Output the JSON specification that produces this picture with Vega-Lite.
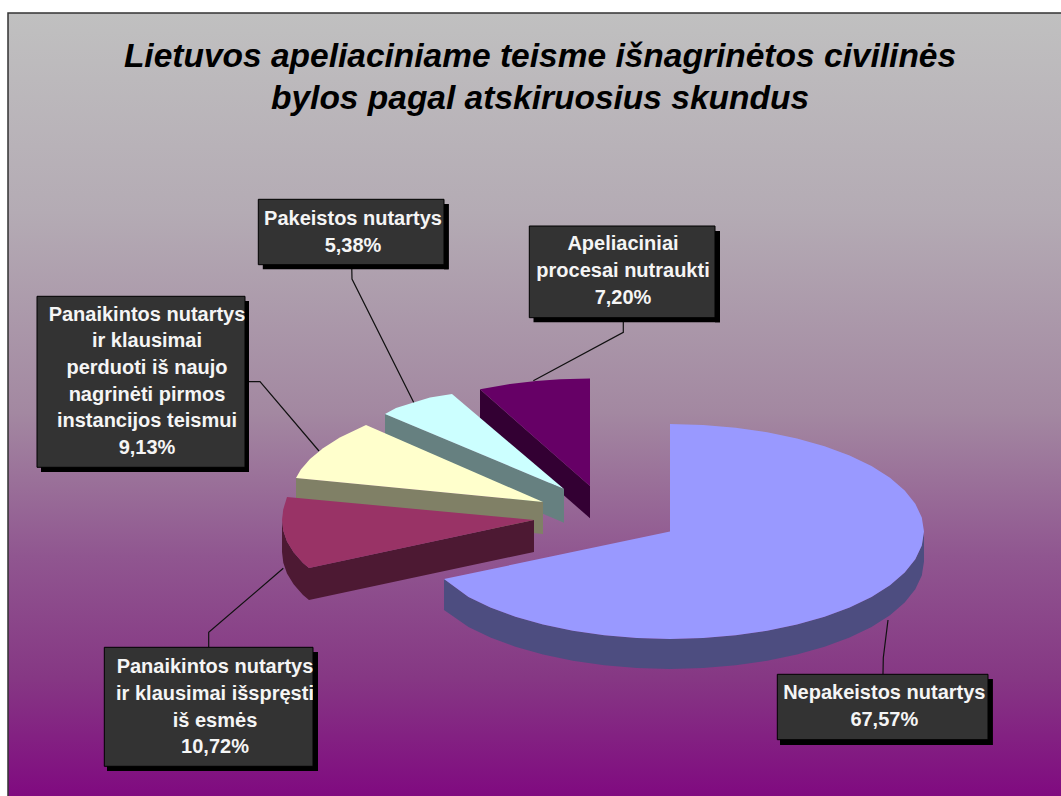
{
"$schema":"https://vega.github.io/schema/vega-lite/v6.json",
"width":1061,"height":796,"padding":0,"autosize":{"type":"none"},"background":"white",
"view":{"stroke":null},
"title":{"text":["Lietuvos apeliaciniame teisme išnagrinėtos civilinės","bylos pagal atskiruosius skundus"],"orient":"top","anchor":"middle","frame":"group","baseline":"alphabetic","dy":142.5,"dx":9.5,"offset":0,"zindex":1,"font":"Liberation Sans","fontSize":33.5,"fontWeight":"bold","fontStyle":"italic","color":"black","lineHeight":41.6},
"datasets":{
"frame":[{"x":8,"x2":1075,"y":13,"y2":812}],
"leaders":[
{"leader":"Nepakeistos nutartys","n":1,"x":883,"y":674},{"leader":"Nepakeistos nutartys","n":2,"x":883.3,"y":657.7},{"leader":"Nepakeistos nutartys","n":3,"x":888,"y":620},
{"leader":"Panaikintos isspresti","n":1,"x":208.7,"y":647},{"leader":"Panaikintos isspresti","n":2,"x":208.7,"y":632.3},{"leader":"Panaikintos isspresti","n":3,"x":283.3,"y":568.3},
{"leader":"Panaikintos perduoti","n":1,"x":245,"y":381.7},{"leader":"Panaikintos perduoti","n":2,"x":260,"y":381.7},{"leader":"Panaikintos perduoti","n":3,"x":319,"y":451},
{"leader":"Pakeistos nutartys","n":1,"x":351.7,"y":264.7},{"leader":"Pakeistos nutartys","n":2,"x":352,"y":279},{"leader":"Pakeistos nutartys","n":3,"x":414,"y":403},
{"leader":"Apeliaciniai procesai","n":1,"x":623.3,"y":317.7},{"leader":"Apeliaciniai procesai","n":2,"x":623.3,"y":332.3},{"leader":"Apeliaciniai procesai","n":3,"x":533.3,"y":380.7}
],
"faces":[
{"part":"Apeliaciniai side","n":1,"x":480,"y":389.3},{"part":"Apeliaciniai side","n":2,"x":590,"y":486},{"part":"Apeliaciniai side","n":3,"x":590,"y":518.3},{"part":"Apeliaciniai side","n":4,"x":480,"y":421.6},
{"part":"Apeliaciniai top","n":1,"x":590,"y":486},{"part":"Apeliaciniai top","n":2,"x":480,"y":389.3},{"part":"Apeliaciniai top","n":3,"x":510,"y":384},{"part":"Apeliaciniai top","n":4,"x":536,"y":381},{"part":"Apeliaciniai top","n":5,"x":560,"y":379.2},{"part":"Apeliaciniai top","n":6,"x":590,"y":378.5},
{"part":"Pakeistos side","n":1,"x":385,"y":414},{"part":"Pakeistos side","n":2,"x":564,"y":489},{"part":"Pakeistos side","n":3,"x":564,"y":522.7},{"part":"Pakeistos side","n":4,"x":385,"y":447},
{"part":"Pakeistos top","n":1,"x":564,"y":489},{"part":"Pakeistos top","n":2,"x":385,"y":414},{"part":"Pakeistos top","n":3,"x":396,"y":408},{"part":"Pakeistos top","n":4,"x":412,"y":403},{"part":"Pakeistos top","n":5,"x":430,"y":397.6},{"part":"Pakeistos top","n":6,"x":452,"y":394},
{"part":"Perduoti side","n":1,"x":296,"y":478},{"part":"Perduoti side","n":2,"x":543,"y":502},{"part":"Perduoti side","n":3,"x":543,"y":534},{"part":"Perduoti side","n":4,"x":296,"y":510},
{"part":"Perduoti top","n":1,"x":543,"y":502},{"part":"Perduoti top","n":2,"x":296,"y":478},{"part":"Perduoti top","n":3,"x":300.7,"y":469.8},{"part":"Perduoti top","n":4,"x":310,"y":459},{"part":"Perduoti top","n":5,"x":323,"y":448.3},{"part":"Perduoti top","n":6,"x":339.8,"y":437.5},{"part":"Perduoti top","n":7,"x":366,"y":425},
{"part":"Isspresti side","n":1,"x":282,"y":520},{"part":"Isspresti side","n":2,"x":283.3,"y":530.8},{"part":"Isspresti side","n":3,"x":287,"y":541.5},{"part":"Isspresti side","n":4,"x":293.6,"y":552.3},{"part":"Isspresti side","n":5,"x":303,"y":563},{"part":"Isspresti side","n":6,"x":309,"y":568},{"part":"Isspresti side","n":7,"x":534,"y":520},{"part":"Isspresti side","n":8,"x":534,"y":552},{"part":"Isspresti side","n":9,"x":309,"y":600},{"part":"Isspresti side","n":10,"x":303,"y":595},{"part":"Isspresti side","n":11,"x":293.6,"y":584.3},{"part":"Isspresti side","n":12,"x":287,"y":573.5},{"part":"Isspresti side","n":13,"x":283.3,"y":562.8},{"part":"Isspresti side","n":14,"x":282,"y":552},
{"part":"Isspresti top","n":1,"x":534,"y":520},{"part":"Isspresti top","n":2,"x":287,"y":497},{"part":"Isspresti top","n":3,"x":283.3,"y":509.3},{"part":"Isspresti top","n":4,"x":282,"y":520},{"part":"Isspresti top","n":5,"x":283.3,"y":530.8},{"part":"Isspresti top","n":6,"x":287,"y":541.5},{"part":"Isspresti top","n":7,"x":293.6,"y":552.3},{"part":"Isspresti top","n":8,"x":303,"y":563},{"part":"Isspresti top","n":9,"x":309,"y":568},
{"part":"Nepakeistos side","n":1,"x":924,"y":531.5},{"part":"Nepakeistos side","n":2,"x":921.8,"y":545.5},{"part":"Nepakeistos side","n":3,"x":915.3,"y":559.3},{"part":"Nepakeistos side","n":4,"x":904.7,"y":572.6},{"part":"Nepakeistos side","n":5,"x":890,"y":585.3},{"part":"Nepakeistos side","n":6,"x":871.5,"y":596.9},{"part":"Nepakeistos side","n":7,"x":849.6,"y":607.5},{"part":"Nepakeistos side","n":8,"x":824.6,"y":616.8},{"part":"Nepakeistos side","n":9,"x":797,"y":624.6},{"part":"Nepakeistos side","n":10,"x":767.2,"y":630.8},{"part":"Nepakeistos side","n":11,"x":735.7,"y":635.3},{"part":"Nepakeistos side","n":12,"x":703.1,"y":638.1},{"part":"Nepakeistos side","n":13,"x":670,"y":639},{"part":"Nepakeistos side","n":14,"x":636.9,"y":638.1},{"part":"Nepakeistos side","n":15,"x":604.3,"y":635.3},{"part":"Nepakeistos side","n":16,"x":572.8,"y":630.8},{"part":"Nepakeistos side","n":17,"x":543,"y":624.6},{"part":"Nepakeistos side","n":18,"x":515.4,"y":616.8},{"part":"Nepakeistos side","n":19,"x":490.4,"y":607.5},{"part":"Nepakeistos side","n":20,"x":468.5,"y":596.9},{"part":"Nepakeistos side","n":21,"x":444,"y":579},{"part":"Nepakeistos side","n":22,"x":444,"y":610},{"part":"Nepakeistos side","n":23,"x":468.5,"y":626.9},{"part":"Nepakeistos side","n":24,"x":490.4,"y":637.5},{"part":"Nepakeistos side","n":25,"x":515.4,"y":646.8},{"part":"Nepakeistos side","n":26,"x":543,"y":654.6},{"part":"Nepakeistos side","n":27,"x":572.8,"y":660.8},{"part":"Nepakeistos side","n":28,"x":604.3,"y":665.3},{"part":"Nepakeistos side","n":29,"x":636.9,"y":668.1},{"part":"Nepakeistos side","n":30,"x":670,"y":669},{"part":"Nepakeistos side","n":31,"x":703.1,"y":668.1},{"part":"Nepakeistos side","n":32,"x":735.7,"y":665.3},{"part":"Nepakeistos side","n":33,"x":767.2,"y":660.8},{"part":"Nepakeistos side","n":34,"x":797,"y":654.6},{"part":"Nepakeistos side","n":35,"x":824.6,"y":646.8},{"part":"Nepakeistos side","n":36,"x":849.6,"y":637.5},{"part":"Nepakeistos side","n":37,"x":871.5,"y":626.9},{"part":"Nepakeistos side","n":38,"x":890,"y":615.3},{"part":"Nepakeistos side","n":39,"x":904.7,"y":602.6},{"part":"Nepakeistos side","n":40,"x":915.3,"y":589.3},{"part":"Nepakeistos side","n":41,"x":921.8,"y":575.5},{"part":"Nepakeistos side","n":42,"x":924,"y":561.5},
{"part":"Nepakeistos top","n":1,"x":670,"y":531.5},{"part":"Nepakeistos top","n":2,"x":670,"y":424},{"part":"Nepakeistos top","n":3,"x":703.1,"y":424.9},{"part":"Nepakeistos top","n":4,"x":735.7,"y":427.7},{"part":"Nepakeistos top","n":5,"x":767.2,"y":432.2},{"part":"Nepakeistos top","n":6,"x":797,"y":438.4},{"part":"Nepakeistos top","n":7,"x":824.6,"y":446.2},{"part":"Nepakeistos top","n":8,"x":849.6,"y":455.5},{"part":"Nepakeistos top","n":9,"x":871.5,"y":466.1},{"part":"Nepakeistos top","n":10,"x":890,"y":477.8},{"part":"Nepakeistos top","n":11,"x":904.7,"y":490.4},{"part":"Nepakeistos top","n":12,"x":915.3,"y":503.7},{"part":"Nepakeistos top","n":13,"x":921.8,"y":517.5},{"part":"Nepakeistos top","n":14,"x":924,"y":531.5},{"part":"Nepakeistos top","n":15,"x":921.8,"y":545.5},{"part":"Nepakeistos top","n":16,"x":915.3,"y":559.3},{"part":"Nepakeistos top","n":17,"x":904.7,"y":572.6},{"part":"Nepakeistos top","n":18,"x":890,"y":585.3},{"part":"Nepakeistos top","n":19,"x":871.5,"y":596.9},{"part":"Nepakeistos top","n":20,"x":849.6,"y":607.5},{"part":"Nepakeistos top","n":21,"x":824.6,"y":616.8},{"part":"Nepakeistos top","n":22,"x":797,"y":624.6},{"part":"Nepakeistos top","n":23,"x":767.2,"y":630.8},{"part":"Nepakeistos top","n":24,"x":735.7,"y":635.3},{"part":"Nepakeistos top","n":25,"x":703.1,"y":638.1},{"part":"Nepakeistos top","n":26,"x":670,"y":639},{"part":"Nepakeistos top","n":27,"x":636.9,"y":638.1},{"part":"Nepakeistos top","n":28,"x":604.3,"y":635.3},{"part":"Nepakeistos top","n":29,"x":572.8,"y":630.8},{"part":"Nepakeistos top","n":30,"x":543,"y":624.6},{"part":"Nepakeistos top","n":31,"x":515.4,"y":616.8},{"part":"Nepakeistos top","n":32,"x":490.4,"y":607.5},{"part":"Nepakeistos top","n":33,"x":468.5,"y":596.9},{"part":"Nepakeistos top","n":34,"x":444,"y":579}
],
"boxes":[
{"name":"Pakeistos nutartys","x":258.3,"x2":444,"y":199.3,"y2":264.7,"sx":262.8,"sx2":448.7,"sy":204,"sy2":269.3},
{"name":"Apeliaciniai procesai","x":529.3,"x2":715,"y":226,"y2":317.7,"sx":533.5,"sx2":720,"sy":231,"sy2":322.3},
{"name":"Panaikintos perduoti","x":37,"x2":245,"y":296.3,"y2":467.3,"sx":41,"sx2":249,"sy":301,"sy2":472},
{"name":"Panaikintos isspresti","x":104.3,"x2":313,"y":647.3,"y2":766.3,"sx":107,"sx2":318,"sy":652,"sy2":771},
{"name":"Nepakeistos nutartys","x":777.3,"x2":988,"y":674.3,"y2":739.7,"sx":780,"sx2":992.7,"sy":679,"sy2":745}
],
"labels":[
{"label":"Pakeistos nutartys\n5,38%","x":353,"y":225},
{"label":"Apeliaciniai\nprocesai nutraukti\n7,20%","x":623,"y":250.3},
{"label":"Panaikintos nutartys\nir klausimai\nperduoti iš naujo\nnagrinėti pirmos\ninstancijos teismui\n9,13%","x":147,"y":320.7},
{"label":"Panaikintos nutartys\nir klausimai išspręsti\niš esmės\n10,72%","x":215,"y":673.3},
{"label":"Nepakeistos nutartys\n67,57%","x":884.3,"y":699}
]
},
"layer":[
{"data":{"name":"frame"},"mark":{"type":"rect","stroke":"#333333","strokeWidth":1.5,"color":{"gradient":"linear","x1":0,"y1":0,"x2":0,"y2":1,"stops":[{"offset":0,"color":"#C0C0C0"},{"offset":0.25,"color":"#B4ABB4"},{"offset":0.5,"color":"#A388A1"},{"offset":0.68,"color":"#905690"},{"offset":0.83,"color":"#863884"},{"offset":0.98,"color":"#800A80"}]}},
 "encoding":{"x":{"field":"x","type":"quantitative","scale":{"domain":[0,1061],"nice":false,"zero":false},"axis":null},"x2":{"field":"x2"},"y":{"field":"y","type":"quantitative","scale":{"domain":[0,796],"reverse":true,"nice":false,"zero":false},"axis":null},"y2":{"field":"y2"}}},
{"data":{"name":"leaders"},"mark":{"type":"line","color":"#111111","strokeWidth":1.2},
 "encoding":{"x":{"field":"x","type":"quantitative"},"y":{"field":"y","type":"quantitative"},"detail":{"field":"leader"},"order":{"field":"n","type":"ordinal"}}},
{"data":{"name":"faces"},"mark":{"type":"line","filled":true,"strokeWidth":0,"interpolate":"linear-closed"},
 "encoding":{"x":{"field":"x","type":"quantitative"},"y":{"field":"y","type":"quantitative"},"order":{"field":"n","type":"quantitative"},
 "color":{"field":"part","type":"nominal","legend":null,"sort":null,"scale":{"domain":["Apeliaciniai side","Apeliaciniai top","Pakeistos side","Pakeistos top","Perduoti side","Perduoti top","Isspresti side","Isspresti top","Nepakeistos side","Nepakeistos top"],"range":["#330033","#660066","#668080","#CCFFFF","#808066","#FFFFCC","#4D1933","#993366","#4D4D80","#9999FF"]}}}},
{"data":{"name":"boxes"},"mark":{"type":"rect","color":"black"},
 "encoding":{"x":{"field":"sx","type":"quantitative"},"x2":{"field":"sx2"},"y":{"field":"sy","type":"quantitative"},"y2":{"field":"sy2"}}},
{"data":{"name":"boxes"},"mark":{"type":"rect","color":"#333333","stroke":"black","strokeWidth":1},
 "encoding":{"x":{"field":"x","type":"quantitative"},"x2":{"field":"x2"},"y":{"field":"y","type":"quantitative"},"y2":{"field":"y2"}}},
{"data":{"name":"labels"},"mark":{"type":"text","font":"Liberation Sans","fontWeight":"bold","fontSize":20,"color":"#F5F5F5","align":"center","baseline":"alphabetic","lineBreak":"\n","lineHeight":26.7},
 "encoding":{"x":{"field":"x","type":"quantitative"},"y":{"field":"y","type":"quantitative"},"text":{"field":"label","type":"nominal"}}},
{"data":{"name":"boxes"},"mark":{"type":"rect","color":"black"},
 "encoding":{"x":{"field":"x2","type":"quantitative"},"x2":{"field":"sx2"},"y":{"field":"sy","type":"quantitative"},"y2":{"field":"sy2"}}}
],
"resolve":{"scale":{"color":"independent"}}
}
